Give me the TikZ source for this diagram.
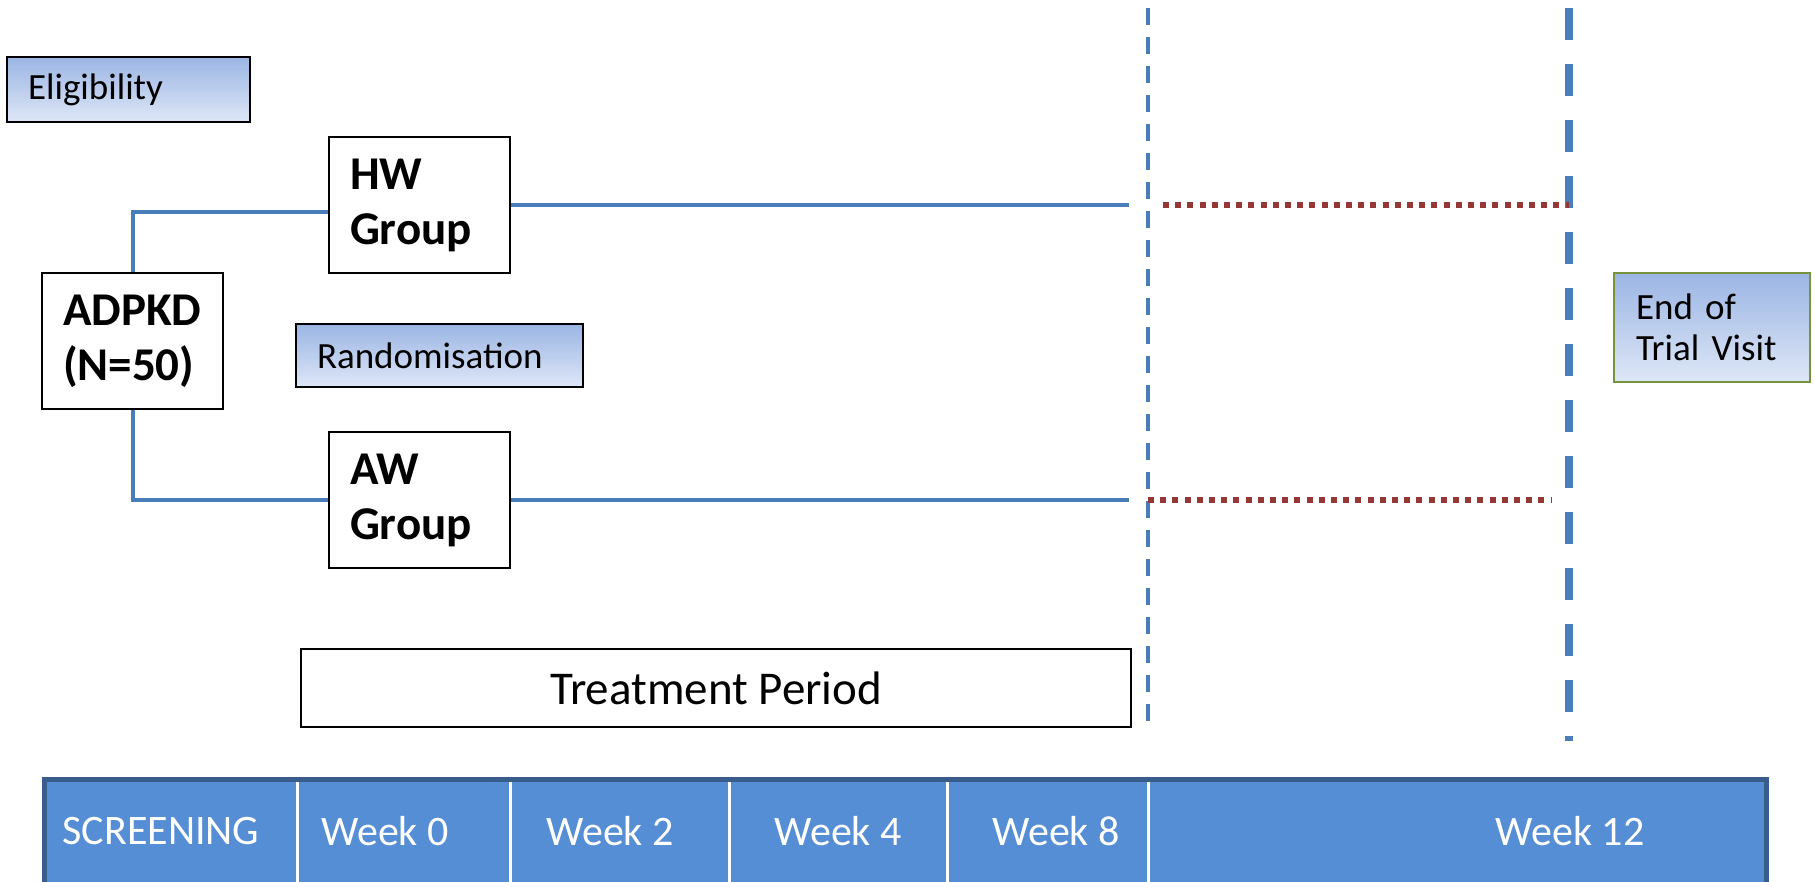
\documentclass[tikz,border=0pt]{standalone}
\usepackage{fontspec}
\setmainfont{Carlito}
\definecolor{lineblue}{HTML}{4A7EBB}
\definecolor{dotred}{HTML}{953735}
\definecolor{barfill}{HTML}{558ED5}
\definecolor{barline}{HTML}{385D8A}
\definecolor{shadetop}{RGB}{155,181,228}
\definecolor{shadebot}{RGB}{222,231,246}
\definecolor{endgreen}{HTML}{77933C}
\tikzset{
  armbox/.style={draw,line width=2pt,minimum width=181pt,minimum height=136pt,inner xsep=21pt,inner ysep=0pt,text width=139pt,align=left,font=\fontsize{47}{55}\selectfont\bfseries},
  tagbox/.style={draw,line width=1.5pt,top color=shadetop,bottom color=shadebot,inner xsep=21pt,inner ysep=0pt,align=left,font=\fontsize{37}{41}\selectfont},
  linkline/.style={lineblue,line width=4pt},
  dotline/.style={dotred,line width=6pt,dash pattern=on 6pt off 6.2pt},
  weeklabel/.style={text=white,font=\fontsize{42}{48}\selectfont},
}
\begin{document}
\begin{tikzpicture}[x=1pt,y=-1pt]
  \useasboundingbox (0,0) rectangle (1815,882);
  \clip (0,0) rectangle (1815,882);
  \node[tagbox,minimum width=243pt,minimum height=65pt,text width=201pt] (elig) at (128.5,89.5) {Eligibility};
  \node[armbox] (adpkd) at (132.5,341) {ADPKD\\(N=50)};
  \node[armbox] (hw) at (419.5,205) {HW\\Group};
  \node[armbox] (aw) at (419.5,500) {AW\\Group};
  \node[tagbox,minimum width=287pt,minimum height=63pt,text width=245pt] (rand) at (439.5,355.5) {Randomisation};
  \node[tagbox,draw=endgreen,minimum width=196pt,minimum height=109pt,text width=152pt] (eotv) at (1712,327.5) {End of\\Trial Visit};
  \node[draw,line width=2pt,minimum width=830pt,minimum height=78pt,font=\fontsize{47}{52}\selectfont] (treat) at (716,688) {Treatment Period};
  \coordinate (wk8top) at (1148,8);
  \coordinate (wk8bot) at (1148,723);
  \coordinate (wk12top) at (1569,8);
  \coordinate (wk12bot) at (1569,741);
  \coordinate (hwend) at (1129,205);
  \coordinate (awend) at (1129,500);
  \coordinate (hwfu) at (1163,205);
  \coordinate (awfu) at (1148,500);
  \coordinate (awfuend) at (1551,500);
  \draw[linkline] (adpkd.north) |- ([yshift=-7pt]hw.west);
  \draw[linkline] (adpkd.south) |- (aw.west);
  \draw[linkline] (hw.east) -- (hwend);
  \draw[linkline] (aw.east) -- (awend);
  \draw[lineblue,line width=4pt,dash pattern=on 17pt off 12pt] (wk8top) -- (wk8bot);
  \draw[lineblue,line width=8pt,dash pattern=on 32pt off 24pt] (wk12top) -- (wk12bot);
  \draw[dotline] (hwfu) -- (wk12top |- hwfu);
  \draw[dotline] (awfu) -- (awfuend);
  \node[draw=barline,fill=barfill,line width=5pt,minimum width=1722pt,minimum height=121pt,inner sep=0pt] (bar) at (905,839.5) {};
  \foreach \x in {297,510,729,947,1148}
    \draw[white,line width=3pt] (\x,782) -- (\x,900);
  \foreach \x/\t in {161/SCREENING,385/Week 0,610/Week 2,838/Week 4,1056/Week 8,1570/Week 12}
    \node[weeklabel] (lbl\x) at (\x,831) {\t};
\end{tikzpicture}
\end{document}
